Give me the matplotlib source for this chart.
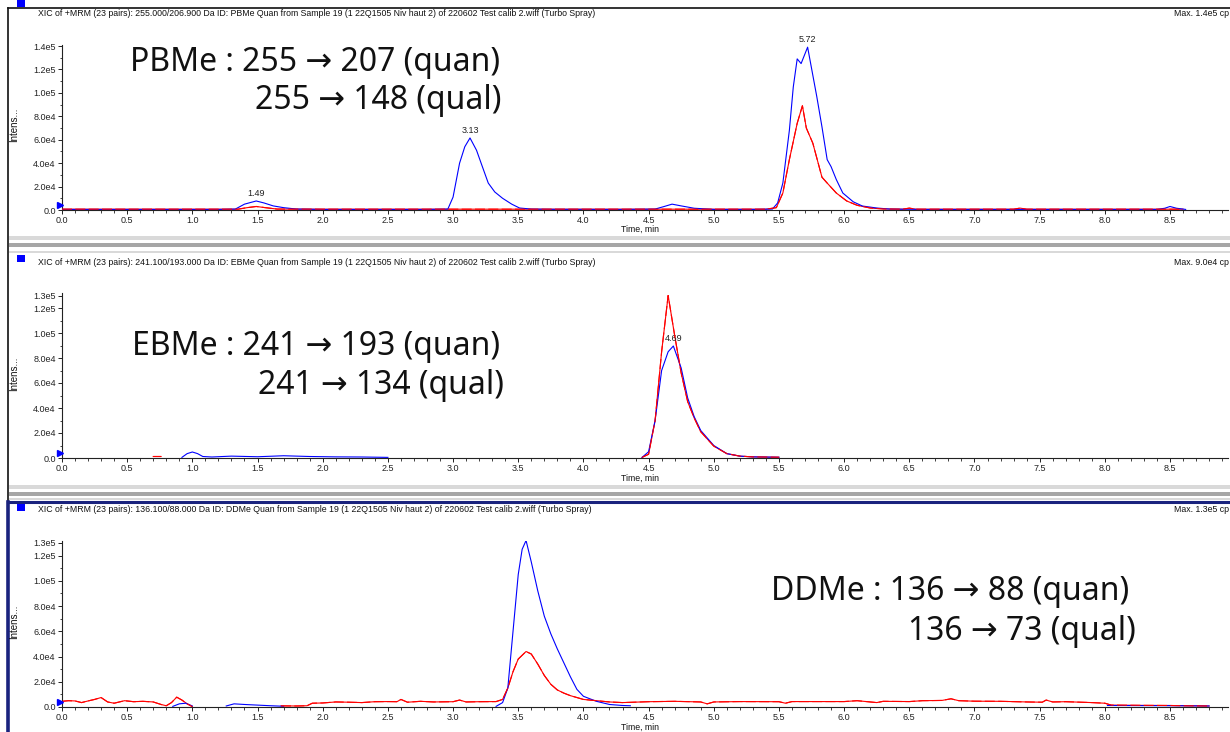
import numpy as np
import matplotlib
matplotlib.use("Agg")
import matplotlib.pyplot as plt
from matplotlib.ticker import FixedLocator, MultipleLocator, FuncFormatter
from matplotlib.patches import Rectangle
from matplotlib.lines import Line2D

nan = np.nan

# ---------------- data ----------------
titles = [
    "XIC of +MRM (23 pairs): 255.000/206.900 Da ID: PBMe Quan from Sample 19 (1 22Q1505 Niv haut 2) of 220602 Test calib 2.wiff (Turbo Spray)",
    "XIC of +MRM (23 pairs): 241.100/193.000 Da ID: EBMe Quan from Sample 19 (1 22Q1505 Niv haut 2) of 220602 Test calib 2.wiff (Turbo Spray)",
    "XIC of +MRM (23 pairs): 136.100/88.000 Da ID: DDMe Quan from Sample 19 (1 22Q1505 Niv haut 2) of 220602 Test calib 2.wiff (Turbo Spray)",
]
max_labels = ["Max. 1.4e5 cp", "Max. 9.0e4 cp", "Max. 1.3e5 cp"]
line1_labels = ["PBMe : 255 \u2192 207 (quan)", "EBMe : 241 \u2192 193 (quan)", "DDMe : 136 \u2192 88 (quan)"]
line2_labels = ["255 \u2192 148 (qual)", "241 \u2192 134 (qual)", "136 \u2192 73 (qual)"]

x_ticks = [0.0, 0.5, 1.0, 1.5, 2.0, 2.5, 3.0, 3.5, 4.0, 4.5, 5.0, 5.5, 6.0, 6.5, 7.0, 7.5, 8.0, 8.5]
y_ticks_1 = [0, 2e4, 4e4, 6e4, 8e4, 1.0e5, 1.2e5, 1.4e5]
y_ticks_23 = [0, 2e4, 4e4, 6e4, 8e4, 1.0e5, 1.2e5, 1.3e5]

# PBMe
pb_t_quan = [0.00, 0.30, 0.60, 0.90, 1.20, 1.33, 1.40, 1.45, 1.49, 1.55, 1.62, 1.70, 1.80, 2.00, 2.40,
             2.80, 2.96, 3.00, 3.05, 3.09, 3.13, 3.18, 3.22, 3.27, 3.32, 3.38, 3.45, 3.51, 3.60, 3.75,
             4.30, 4.55, 4.62, 4.68, 4.75, 4.85, 5.00, 5.30, 5.45, 5.49, 5.53, 5.58, 5.61, 5.64, 5.67,
             5.72, 5.75, 5.79, 5.83, 5.87, 5.90, 5.94, 5.99, 6.07, 6.14, 6.25, 6.35, 6.60, 7.00, 7.50,
             8.00, 8.40, 8.46, 8.50, 8.55, 8.62]
pb_v_quan = [500, 500, 500, 500, 500, 800, 5000, 6500, 7700, 6000, 3500, 2000, 800, 500, 500,
             500, 800, 11000, 40000, 54000, 61500, 51000, 38500, 23000, 15400, 10000, 5000, 1700, 800, 600,
             500, 800, 3000, 5000, 3500, 1500, 500, 500, 800, 6000, 23000, 68000, 105000, 129000, 125000,
             139000, 121000, 97000, 71000, 43000, 37000, 26000, 14500, 7000, 3400, 1700, 800, 500, 500, 500,
             500, 500, 1500, 3000, 1500, 500]
pb_t_qual = [0.00, 0.50, 1.00, 1.35, 1.42, 1.49, 1.56, 1.65, 2.00, 2.50, 3.00, 3.50, 4.00, 4.50, 5.00,
             5.40, 5.48, 5.53, 5.58, 5.64, 5.68, 5.71, 5.76, 5.83, 5.87, 5.94, 6.02, 6.10, 6.20, 6.30,
             6.45, 6.50, 6.55, 7.00, 7.30, 7.35, 7.40, 8.00, 8.60]
pb_v_qual = [700, 700, 700, 700, 2000, 3000, 2000, 800, 700, 700, 700, 700, 700, 700, 700,
             700, 2000, 14500, 43000, 74000, 89000, 70000, 57000, 28000, 23000, 14500, 7700, 4000, 1700, 900,
             700, 1600, 700, 700, 700, 1600, 700, 700, 700]

# EBMe
eb_t_quan = [0.92, 0.96, 1.00, 1.04, 1.08, 1.15, 1.30, 1.50, 1.70, 1.90, 2.10, 2.30, 2.50, 2.51,
             4.45, 4.50, 4.55, 4.60, 4.65, 4.69, 4.75, 4.80, 4.85, 4.90, 5.00, 5.10, 5.20, 5.30, 5.50]
eb_v_quan = [500, 3500, 4800, 3500, 1200, 800, 1500, 1000, 1800, 1200, 900, 800, 500, nan,
             500, 5000, 30000, 70000, 85000, 89600, 72000, 48000, 33000, 22000, 10000, 3500, 1500, 900, 600]
eb_t_qual = [0.70, 0.76, 0.77,
             4.45, 4.50, 4.55, 4.60, 4.65, 4.70, 4.75, 4.80, 4.85, 4.90, 5.00, 5.10, 5.20, 5.30, 5.50]
eb_v_qual = [1200, 1200, nan,
             500, 3000, 30000, 85000, 130000, 98000, 68000, 45000, 32000, 21000, 9500, 3500, 1500, 900, 600]

# DDMe
dd_t_quan = [0.85, 0.90, 0.95, 1.00, 1.01, 1.26, 1.32, 1.40, 1.50, 1.60, 1.70, 1.71,
             3.33, 3.38, 3.42, 3.46, 3.50, 3.53, 3.56, 3.60, 3.65, 3.70, 3.75, 3.80, 3.85, 3.90, 3.95,
             4.00, 4.10, 4.20, 4.30, 4.36, 4.37, 8.02, 8.30, 8.60, 8.80]
dd_v_quan = [500, 2500, 3000, 800, nan, 800, 2500, 2000, 1500, 1000, 600, nan,
             500, 3500, 15000, 60000, 105000, 125000, 132000, 115000, 92000, 72000, 58000, 46000, 35000, 24000, 14000,
             8500, 4500, 2000, 1200, 1000, nan, 1200, 1100, 1000, 800]
dd_t_qual = [0.00, 0.05, 0.10, 0.15, 0.20, 0.25, 0.30, 0.35, 0.40, 0.48, 0.55, 0.62, 0.70, 0.76, 0.80,
             0.84, 0.88, 0.92, 0.96, 1.00, 1.01, 1.68, 1.80, 1.88, 1.92, 2.00, 2.10, 2.20, 2.30, 2.40,
             2.50, 2.57, 2.60, 2.65, 2.75, 2.85, 3.00, 3.05, 3.10, 3.20, 3.33, 3.38, 3.42, 3.46, 3.50,
             3.56, 3.60, 3.65, 3.70, 3.75, 3.80, 3.85, 3.90, 3.95, 4.00, 4.10, 4.20, 4.30, 4.50, 4.70,
             4.90, 4.95, 5.00, 5.20, 5.50, 5.55, 5.60, 6.00, 6.10, 6.25, 6.30, 6.50, 6.60, 6.75, 6.82,
             6.88, 7.00, 7.20, 7.40, 7.52, 7.55, 7.60, 7.70, 7.90, 8.00, 8.05, 8.30, 8.50, 8.60, 8.80]
dd_v_qual = [4500, 5000, 4800, 3500, 4800, 6000, 7500, 4000, 3000, 5000, 4200, 4500, 4000, 2000, 1000,
             3500, 7800, 5500, 2500, 300, nan, 900, 800, 1000, 3000, 3200, 4000, 3800, 3500, 4200,
             4300, 4200, 6000, 3800, 4500, 4000, 4200, 5500, 4000, 4200, 4300, 6000, 15000, 28000, 38000,
             44000, 42000, 34000, 25000, 18000, 13500, 11000, 9000, 7500, 6000, 5000, 4000, 3500, 4200, 4500,
             4000, 2500, 4000, 4300, 4200, 3000, 4300, 4300, 5000, 3500, 4500, 4300, 5000, 5200, 6500,
             5000, 4600, 4500, 4000, 3800, 5500, 4000, 4200, 3500, 3000, 1500, 1300, 1200, 1000, 800]

peaks = [
    [("1.49", 1.49, 7700), ("3.13", 3.13, 61500), ("5.72", 5.72, 139000)],
    [("4.69", 4.69, 89600)],
    [("3.56", 3.56, 132000)],
]

# ---------------- layout ----------------
W, H = 1230, 732
fig = plt.figure(figsize=(W / 100, H / 100), dpi=100)
fig.patch.set_facecolor("white")


def fx(px):
    return px / W


def fy(py):
    return 1 - py / H


X0, X85, XR = 62, 1170, 1228
px_per_min = (X85 - X0) / 8.5
xmax = (XR - X0) / px_per_min

# (zero pixel, pixel of ref value, ref value, top pixel, yticks)
panel_geo = [
    (210, 46, 1.4e5, 45, y_ticks_1),
    (458, 295.5, 1.3e5, 293, y_ticks_23),
    (707, 543, 1.3e5, 541, y_ticks_23),
]

traces = [
    (pb_t_quan, pb_v_quan, pb_t_qual, pb_v_qual),
    (eb_t_quan, eb_v_quan, eb_t_qual, eb_v_qual),
    (dd_t_quan, dd_v_quan, dd_t_qual, dd_v_qual),
]

TF = ["Liberation Sans", "DejaVu Sans"]
BIG = ["Noto Sans", "DejaVu Sans"]


def yfmt(v, pos):
    if v == 0:
        return "0.0"
    e = int(np.floor(np.log10(v) + 1e-9))
    m = v / 10 ** e
    return f"{m:.1f}e{e}"


BLUE = "#0000ff"
RED = "#ff0000"
LW = 0.8

axes = []
for i, (zero_px, ref_px, ref_v, top_px, yt) in enumerate(panel_geo):
    ymax = ref_v * (zero_px - top_px) / (zero_px - ref_px)
    ax = fig.add_axes([fx(X0), fy(zero_px), (XR - X0) / W, (zero_px - top_px) / H])
    axes.append(ax)
    tq, vq, tl, vl = traces[i]
    ax.plot(tl, vl, color=RED, lw=LW, zorder=2)
    ax.plot(tq, vq, color=BLUE, lw=LW, zorder=3)
    ax.plot(tl, vl, color=RED, lw=LW, zorder=4, dashes=(9, 3))
    ax.set_xlim(0, xmax)
    ax.set_ylim(0, ymax)
    for s in ["top", "right"]:
        ax.spines[s].set_visible(False)
    for s in ["left", "bottom"]:
        ax.spines[s].set_linewidth(0.8)
        ax.spines[s].set_color("#222222")
    ax.xaxis.set_major_locator(FixedLocator(x_ticks))
    ax.xaxis.set_minor_locator(MultipleLocator(0.1))
    ax.xaxis.set_major_formatter(FuncFormatter(lambda v, p: f"{v:.1f}"))
    ax.yaxis.set_major_locator(FixedLocator(yt))
    ax.yaxis.set_minor_locator(MultipleLocator(1e4))
    ax.yaxis.set_major_formatter(FuncFormatter(yfmt))
    ax.tick_params(axis="both", which="major", length=3, width=0.7, labelsize=6.5, pad=1.5,
                   colors="#222222")
    ax.tick_params(axis="both", which="minor", length=1.8, width=0.6, colors="#222222")
    for lab in ax.get_xticklabels() + ax.get_yticklabels():
        lab.set_family(TF)
    ax.patch.set_alpha(0)
    for lab, t, v in peaks[i]:
        ax.annotate(lab, (t, v), xytext=(0, 2), textcoords="offset points", ha="center",
                    va="bottom", fontsize=6.5, family=TF, color="#222222")

# offsets between panels
offs = [0, 249, 497]
square_tops = [0, 255, 504]

for i, off in enumerate(offs):
    fig.text(fx(38), fy(13 + off), titles[i], fontsize=6.3, family=TF, va="center", ha="left",
             color="#111111")
    fig.text(fx(1229), fy(13 + off), max_labels[i], fontsize=6.3, family=TF, va="center", ha="right",
             color="#111111")
    sq_top = square_tops[i]
    fig.add_artist(Rectangle((fx(17), fy(sq_top + 7)), 8 / W, 7 / H, transform=fig.transFigure,
                             facecolor=BLUE, edgecolor="none", zorder=10))
    fig.text(fx(640), fy(229 + off if i < 2 else 727), "Time, min", fontsize=6.3, family=TF,
             ha="center", va="center", color="#111111")
    fig.text(fx(14), fy(125 + off), "Intens...", fontsize=7, family=TF,
             rotation=90, ha="center", va="center", color="#111111")

# blue triangles at baseline
for ypx in [205, 453, 702]:
    fig.add_artist(Line2D([fx(60)], [fy(ypx)], marker=">", markersize=5, color=BLUE,
                          transform=fig.transFigure, linestyle="none"))

# big annotations
big_pos = [
    ((130, 71), (255, 109)),
    ((132, 355), (258, 394)),
    ((771, 600), (908, 640)),
]
for i, ((x1, y1), (x2, y2)) in enumerate(big_pos):
    fig.text(fx(x1), fy(y1), line1_labels[i], fontsize=23, family=BIG, ha="left", va="baseline",
             color="#111111")
    fig.text(fx(x2), fy(y2), line2_labels[i], fontsize=23, family=BIG, ha="left", va="baseline",
             color="#111111")

# frames
fig.add_artist(Line2D([fx(8), fx(1230)], [fy(8), fy(8)], color="#111111", lw=1.2,
                      transform=fig.transFigure))
fig.add_artist(Line2D([fx(8), fx(8)], [fy(8), fy(501)], color="#111111", lw=1.2,
                      transform=fig.transFigure))


def band(y0, y1, color):
    fig.add_artist(Rectangle((fx(9), fy(y1)), (1230 - 9) / W, (y1 - y0) / H,
                             transform=fig.transFigure, facecolor=color, edgecolor="none"))


band(236, 240, "#d9d9d9")
band(243, 247, "#a6a6a6")
band(251, 253, "#d9d9d9")
band(485, 489, "#d9d9d9")
band(492, 496, "#a6a6a6")
band(498, 500, "#d9d9d9")

NAVY = "#1a237e"
fig.add_artist(Line2D([fx(8), fx(1230)], [fy(502), fy(502)], color=NAVY, lw=2.2,
                      transform=fig.transFigure))
fig.add_artist(Line2D([fx(8), fx(8)], [fy(502), fy(732)], color=NAVY, lw=2.6,
                      transform=fig.transFigure))

fig.savefig("out.png", dpi=100, facecolor="white")
